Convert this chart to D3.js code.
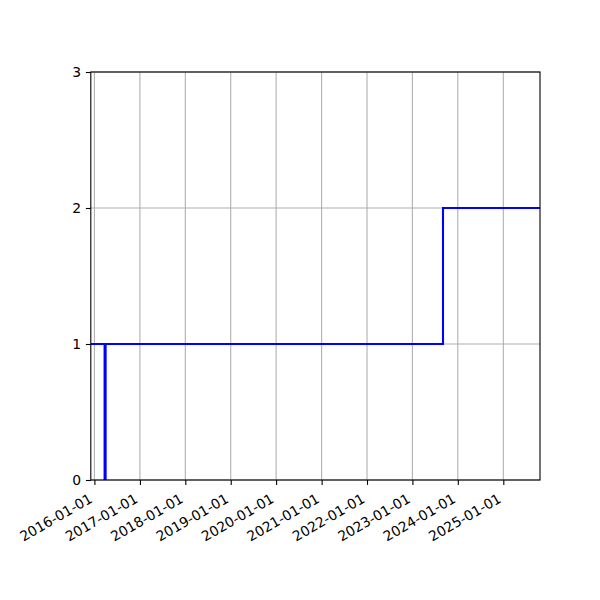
<!DOCTYPE html>
<html>
<head>
<meta charset="utf-8">
<script src="https://cdn.jsdelivr.net/npm/d3@7"></script>
<style>
  body { margin: 0; background: #fff; }
  text { font-family: "DejaVu Sans", sans-serif; font-size: 13.9px; fill: #000; }
</style>
</head>
<body>
<div id="chart"></div>
<script>
// data
var stepDates = ["2015-12-03", "2016-03-23", "2016-03-31", "2023-09-04", "2025-10-23"]
var stepValues = [1, 0, 1, 2, 2]
var xDomain = ["2015-12-03", "2025-10-23"]
var xTickYears = [2016, 2017, 2018, 2019, 2020, 2021, 2022, 2023, 2024, 2025]
var yTicks = [0, 1, 2, 3]

var parse = d3.timeParse("%Y-%m-%d")
var fmt = d3.timeFormat("%Y-%m-%d")

var W = 600, H = 600
var mLeft = 90.8, mRight = 540, mTop = 72, mBottom = 480

var svg = d3.select("#chart").append("svg")
  .attr("width", W)
  .attr("height", H)

var x = d3.scaleTime()
  .domain(xDomain.map(parse))
  .range([mLeft, mRight])

var y = d3.scaleLinear()
  .domain([0, 3])
  .range([mBottom, mTop])

var xTicks = xTickYears.map(function (yr) { return new Date(yr, 0, 1) })

// grid
var grid = svg.append("g").attr("stroke", "#b0b0b0").attr("stroke-width", 1.1)
grid.selectAll(".gx").data(xTicks).enter().append("line")
  .attr("x1", function (d) { return x(d) }).attr("x2", function (d) { return x(d) })
  .attr("y1", mTop).attr("y2", mBottom)
grid.selectAll(".gy").data(yTicks).enter().append("line")
  .attr("x1", mLeft).attr("x2", mRight)
  .attr("y1", function (d) { return y(d) }).attr("y2", function (d) { return y(d) })

// step line
svg.append("defs").append("clipPath").attr("id", "clip")
  .append("rect").attr("x", mLeft).attr("y", mTop).attr("width", mRight - mLeft).attr("height", mBottom - mTop)

var pts = stepDates.map(function (d, i) { return [parse(d), stepValues[i]] })
var line = d3.line()
  .x(function (d) { return x(d[0]) })
  .y(function (d) { return y(d[1]) })
  .curve(d3.curveStepAfter)

svg.append("path")
  .datum(pts)
  .attr("clip-path", "url(#clip)")
  .attr("fill", "none")
  .attr("stroke", "#0000ff")
  .attr("stroke-width", 2.1)
  .attr("d", line)

// axes
var xAxis = d3.axisBottom(x).tickValues(xTicks).tickFormat(fmt).tickSize(4.9).tickPadding(4.9)
var gx = svg.append("g").attr("transform", "translate(0," + mBottom + ")").call(xAxis)
gx.select(".domain").remove()
gx.selectAll("line").attr("stroke", "#000").attr("stroke-width", 1.1)
gx.selectAll("text")
  .attr("text-anchor", "end")
  .attr("y", 0).attr("dy", 0)
  .attr("transform", "translate(-1.6,21.5) rotate(-30)")

var yAxis = d3.axisLeft(y).tickValues(yTicks).tickFormat(d3.format("d")).tickSize(4.9).tickPadding(4.9)
var gy = svg.append("g").attr("transform", "translate(" + mLeft + ",0)").call(yAxis)
gy.select(".domain").remove()
gy.selectAll("line").attr("stroke", "#000").attr("stroke-width", 1.1)
gy.selectAll("text").attr("dy", "0.35em")

svg.selectAll(".tick text").style("font-family", "DejaVu Sans").style("font-size", "13.9px")

// frame
svg.append("rect")
  .attr("x", mLeft).attr("y", mTop)
  .attr("width", mRight - mLeft).attr("height", mBottom - mTop)
  .attr("fill", "none").attr("stroke", "#000").attr("stroke-width", 1.1)
</script>
</body>
</html>
